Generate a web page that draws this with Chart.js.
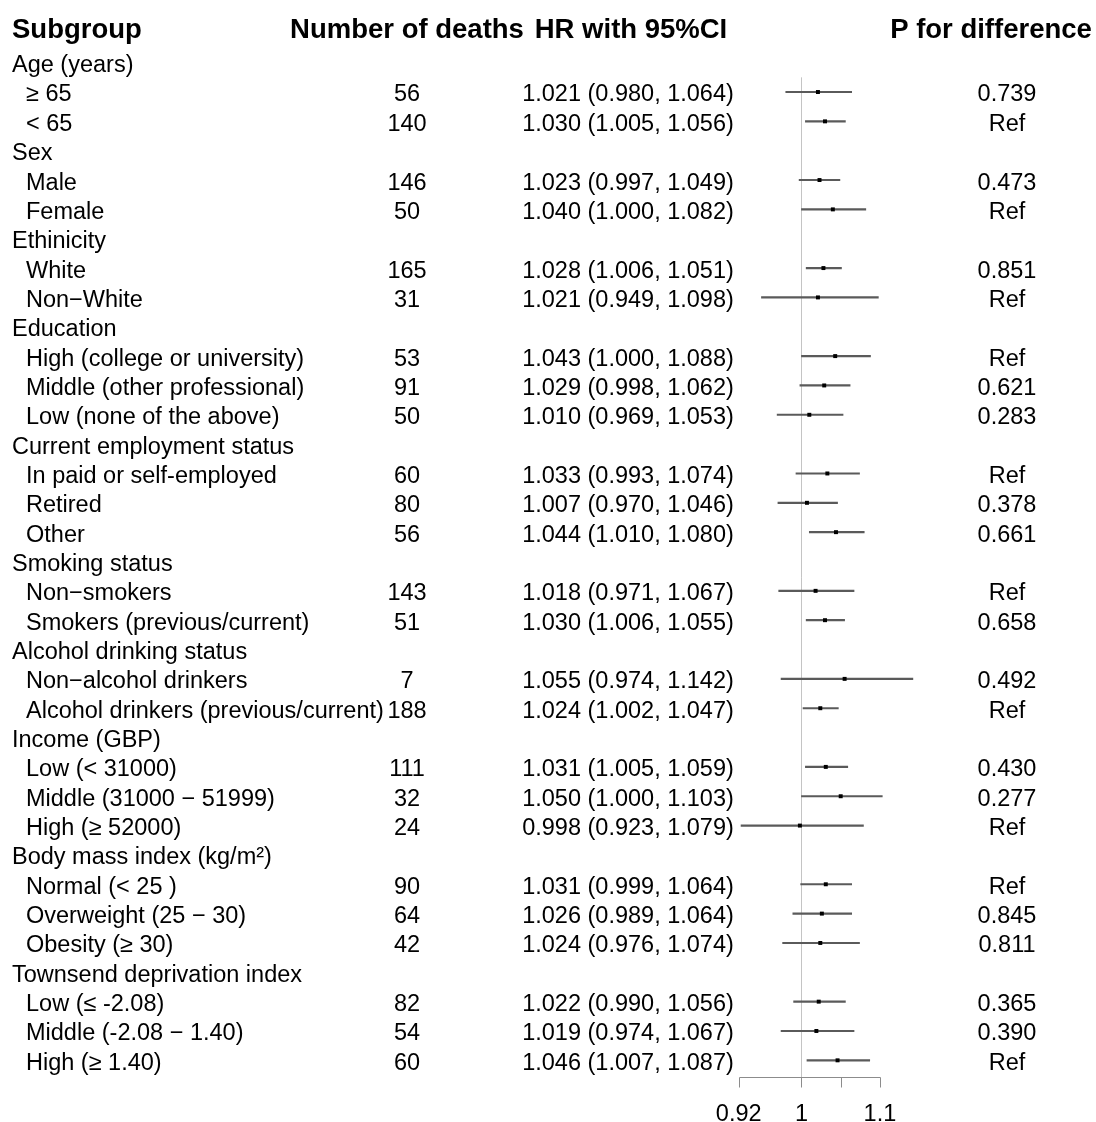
<!DOCTYPE html>
<html>
<head>
<meta charset="utf-8">
<script src="https://cdn.jsdelivr.net/npm/chart.js@4"></script>
<style>
  body { margin: 0; background: #fff; }
</style>
</head>
<body>
<canvas id="forest" width="1096" height="1122"></canvas>
<script>
// rows of the table, group headings have null values
const subgroups = [
  'Age (years)', '≥ 65', '< 65',
  'Sex', 'Male', 'Female',
  'Ethinicity', 'White', 'Non−White',
  'Education', 'High (college or university)', 'Middle (other professional)', 'Low (none of the above)',
  'Current employment status', 'In paid or self-employed', 'Retired', 'Other',
  'Smoking status', 'Non−smokers', 'Smokers (previous/current)',
  'Alcohol drinking status', 'Non−alcohol drinkers', 'Alcohol drinkers (previous/current)',
  'Income (GBP)', 'Low (< 31000)', 'Middle (31000 − 51999)', 'High (≥ 52000)',
  'Body mass index (kg/m²)', 'Normal (< 25 )', 'Overweight (25 − 30)', 'Obesity (≥ 30)',
  'Townsend deprivation index', 'Low (≤ -2.08)', 'Middle (-2.08 − 1.40)', 'High (≥ 1.40)'
];
const deaths = [
  null, 56, 140,
  null, 146, 50,
  null, 165, 31,
  null, 53, 91, 50,
  null, 60, 80, 56,
  null, 143, 51,
  null, 7, 188,
  null, 111, 32, 24,
  null, 90, 64, 42,
  null, 82, 54, 60
];
const hr = [
  null, 1.021, 1.030,
  null, 1.023, 1.040,
  null, 1.028, 1.021,
  null, 1.043, 1.029, 1.010,
  null, 1.033, 1.007, 1.044,
  null, 1.018, 1.030,
  null, 1.055, 1.024,
  null, 1.031, 1.050, 0.998,
  null, 1.031, 1.026, 1.024,
  null, 1.022, 1.019, 1.046
];
const ciLow = [
  null, 0.980, 1.005,
  null, 0.997, 1.000,
  null, 1.006, 0.949,
  null, 1.000, 0.998, 0.969,
  null, 0.993, 0.970, 1.010,
  null, 0.971, 1.006,
  null, 0.974, 1.002,
  null, 1.005, 1.000, 0.923,
  null, 0.999, 0.989, 0.976,
  null, 0.990, 0.974, 1.007
];
const ciHigh = [
  null, 1.064, 1.056,
  null, 1.049, 1.082,
  null, 1.051, 1.098,
  null, 1.088, 1.062, 1.053,
  null, 1.074, 1.046, 1.080,
  null, 1.067, 1.055,
  null, 1.142, 1.047,
  null, 1.059, 1.103, 1.079,
  null, 1.064, 1.064, 1.074,
  null, 1.056, 1.067, 1.087
];
const pDiff = [
  null, '0.739', 'Ref',
  null, '0.473', 'Ref',
  null, '0.851', 'Ref',
  null, 'Ref', '0.621', '0.283',
  null, 'Ref', '0.378', '0.661',
  null, 'Ref', '0.658',
  null, '0.492', 'Ref',
  null, '0.430', '0.277', 'Ref',
  null, 'Ref', '0.845', '0.811',
  null, '0.365', '0.390', 'Ref'
];
const headers = ['Subgroup', 'Number of deaths', 'HR with 95%CI', 'P for difference'];
const axisTicks = [0.92, 1, 1.05, 1.1];
const axisLabels = ['0.92', '1', '', '1.1'];

const FONT = '"Liberation Sans", Arial, sans-serif';

function fmt(v) { return v.toFixed(3); }

const tablePlugin = {
  id: 'tablePlugin',
  beforeDatasetsDraw(chart) {
    const ctx = chart.ctx;
    const x = chart.scales.x, y = chart.scales.y;
    const x1 = Math.round(x.getPixelForValue(1)) + 0.5;
    const top = (y.getPixelForValue(0) + y.getPixelForValue(1)) / 2;
    ctx.save();
    ctx.strokeStyle = '#c4c4c4';
    ctx.lineWidth = 1;
    ctx.beginPath();
    ctx.moveTo(x1, top);
    ctx.lineTo(x1, chart.chartArea.bottom + 2);
    ctx.stroke();
    ctx.restore();
  },
  afterDraw(chart) {
    const ctx = chart.ctx;
    const x = chart.scales.x, y = chart.scales.y;
    ctx.save();
    ctx.fillStyle = '#000';
    ctx.textBaseline = 'middle';

    // headers
    const hy = y.getPixelForValue(0) - 32;
    ctx.font = 'bold 27.5px ' + FONT;
    ctx.textAlign = 'left';
    ctx.fillText(headers[0], 12, hy);
    ctx.textAlign = 'center';
    ctx.fillText(headers[1], 407, hy);
    ctx.fillText(headers[2], 631, hy);
    ctx.fillText(headers[3], 991, hy);

    // rows
    ctx.font = '23.5px ' + FONT;
    subgroups.forEach((label, i) => {
      const py = y.getPixelForValue(i) + 3;
      ctx.textAlign = 'left';
      if (hr[i] === null) {
        ctx.fillText(label, 12, py);
        return;
      }
      ctx.fillText(label, 26, py);
      ctx.textAlign = 'center';
      ctx.fillText(String(deaths[i]), 407, py);
      ctx.fillText(fmt(hr[i]) + ' (' + fmt(ciLow[i]) + ', ' + fmt(ciHigh[i]) + ')', 628, py);
      ctx.fillText(pDiff[i], 1007, py);
    });

    // x axis from 0.92 to 1.1
    const ay = Math.round(chart.chartArea.bottom + 2) + 0.5;
    const xa = x.getPixelForValue(axisTicks[0]);
    const xb = x.getPixelForValue(axisTicks[axisTicks.length - 1]);
    ctx.strokeStyle = '#8c8c8c';
    ctx.lineWidth = 1;
    ctx.beginPath();
    ctx.moveTo(Math.round(xa) + 0.5, ay);
    ctx.lineTo(Math.round(xb) + 0.5, ay);
    axisTicks.forEach(t => {
      const px = Math.round(x.getPixelForValue(t)) + 0.5;
      ctx.moveTo(px, ay);
      ctx.lineTo(px, ay + 10);
    });
    ctx.stroke();
    ctx.fillStyle = '#000';
    ctx.textAlign = 'center';
    axisTicks.forEach((t, k) => {
      if (axisLabels[k]) ctx.fillText(axisLabels[k], x.getPixelForValue(t), ay + 37);
    });
    ctx.restore();
  }
};

new Chart(document.getElementById('forest'), {
  type: 'bar',
  data: {
    labels: subgroups,
    datasets: [
      {
        type: 'line',
        data: hr,
        showLine: false,
        pointStyle: 'rect',
        pointRadius: 2.8,
        pointBackgroundColor: '#000',
        pointBorderWidth: 0,
        order: 0
      },
      {
        type: 'bar',
        data: ciLow.map((lo, i) => lo === null ? null : [lo, ciHigh[i]]),
        backgroundColor: '#5a5a5a',
        borderWidth: 0,
        barThickness: 1.5,
        order: 1
      }
    ]
  },
  options: {
    indexAxis: 'y',
    responsive: false,
    animation: false,
    events: [],
    layout: { padding: { left: 723, right: 169, top: 48, bottom: 47 } },
    plugins: { legend: { display: false }, tooltip: { enabled: false } },
    scales: {
      x: { type: 'linear', min: 0.90, max: 1.16, display: false },
      y: { type: 'category', display: false, offset: true }
    }
  },
  plugins: [tablePlugin]
});
</script>
</body>
</html>
